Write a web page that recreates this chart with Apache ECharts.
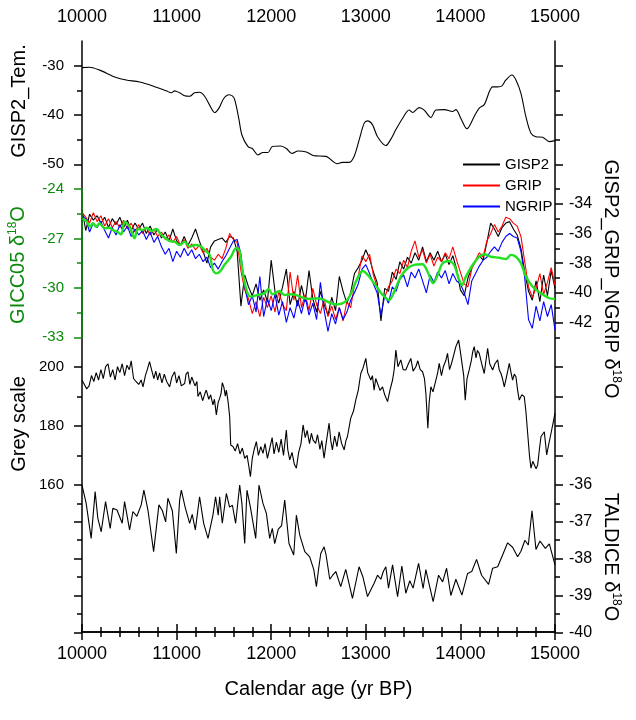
<!DOCTYPE html>
<html lang="en">
<head>
<meta charset="UTF-8">
<title>Ice core records 10000-15000 yr BP</title>
<script src="https://cdn.jsdelivr.net/npm/echarts@6/dist/echarts.min.js"></script>
<style>
html, body { margin: 0; padding: 0; background: #fff; }
#main { width: 636px; height: 720px; }
</style>
</head>
<body>
<div id="main"></div>
<script>
// GISP2 temperature (top panel)
var temYears = [10000,10079,10185,10362,10467,10608,10749,10891,10944,10979,11032,11085,11138,11190,11243,11296,11349,11402,11448,11497,
  11554,11603,11632,11660,11691,11755,11801,11860,11913,11966,12012,12101,12160,12220,12284,12372,12443,12471,12577,12700,
  12753,12824,12876,12929,12982,13018,13071,13124,13212,13265,13317,13388,13458,13494,13564,13617,13688,13741,13829,13917,
  13952,14005,14069,14146,14199,14252,14341,14394,14439,14481,14545,14587,14640,14693,14746,14799,14870,14940,15000];
var temValues = [-30.4,-30.3,-30.9,-32.4,-32.9,-33.3,-34.1,-35.1,-35.5,-35.1,-35.5,-36.1,-36.2,-35.5,-35.4,-36.2,-38.0,-39.5,-38.6,-36.7,
  -35.9,-36.4,-38.3,-41.0,-44.1,-46.4,-46.8,-48.1,-47.6,-47.6,-46.4,-46.3,-46.8,-47.8,-47.3,-47.5,-48.2,-48.3,-48.4,-49.9,
  -49.6,-49.6,-48.4,-45.1,-41.7,-41.2,-42.0,-44.4,-46.2,-44.9,-43.0,-40.7,-39.0,-39.5,-38.5,-39.0,-40.5,-39.0,-38.9,-39.3,
  -38.9,-40.7,-42.8,-40.3,-38.6,-37.9,-34.3,-34.3,-34.1,-32.9,-31.9,-32.9,-35.6,-40.4,-43.7,-44.4,-44.5,-45.4,-45.2];

// GISP2 / GRIP / NGRIP d18O (second panel, right axis)
var iceYears = [10000,10040,10080,10120,10160,10200,10240,10280,10320,10360,
  10400,10440,10480,10520,10560,10600,10640,10680,10720,10760,
  10800,10840,10880,10920,10960,11000,11040,11080,11120,11160,
  11200,11240,11280,11320,11360,11400,11440,11480,11520,11560,
  11600,11640,11680,11720,11760,11800,11840,11880,11920,11960,
  12000,12040,12080,12120,12160,12200,12240,12280,12320,12360,
  12400,12440,12480,12520,12560,12600,12640,12680,12720,12760,
  12800,12840,12880,12920,12960,13000,13040,13080,13120,13160,
  13200,13240,13280,13320,13360,13400,13440,13480,13520,13560,
  13600,13640,13680,13720,13760,13800,13840,13880,13920,13960,
  14000,14040,14080,14120,14160,14200,14240,14280,14320,14360,
  14400,14440,14480,14520,14560,14600,14640,14680,14720,14760,
  14800,14840,14880,14920,14960,15000];
var gisp2 = [-34.4,-35.8,-34.7,-35.1,-34.8,-35.3,-34.9,-35.6,-35.0,-35.4,
  -34.9,-35.6,-35.1,-35.8,-35.3,-35.7,-35.3,-36.0,-35.5,-36.1,
  -35.7,-36.3,-35.9,-36.5,-35.7,-36.5,-36.8,-36.2,-36.8,-36.3,
  -35.7,-36.5,-37.2,-38.0,-36.9,-36.5,-36.4,-36.3,-36.6,-36.2,
  -36.3,-37.2,-40.9,-38.8,-39.6,-40.2,-39.4,-40.5,-39.8,-40.6,
  -37.8,-39.9,-40.7,-39.6,-38.4,-40.8,-39.9,-40.9,-39.5,-40.6,
  -38.5,-40.4,-41.3,-39.9,-40.8,-41.5,-40.3,-41.2,-38.9,-39.9,
  -40.7,-40.0,-38.7,-38.3,-37.8,-37.1,-37.7,-38.6,-39.3,-41.9,
  -39.7,-39.9,-38.6,-39.1,-37.9,-38.4,-37.6,-38.0,-37.3,-37.8,
  -36.9,-37.9,-37.3,-37.8,-37.2,-37.9,-37.4,-38.1,-37.5,-38.4,
  -39.8,-40.2,-39.0,-38.3,-37.9,-37.5,-37.8,-36.6,-35.3,-35.7,
  -36.2,-35.6,-35.3,-35.2,-35.7,-36.1,-37.0,-38.6,-39.9,-40.5,
  -39.2,-40.6,-38.8,-40.2,-38.5,-39.7];
var grip = [-34.6,-34.9,-35.3,-34.6,-35.2,-34.8,-35.5,-35.0,-35.6,-35.2,
  -35.6,-35.1,-35.7,-35.3,-35.9,-35.4,-36.0,-35.6,-36.1,-35.7,
  -36.2,-35.9,-36.4,-36.1,-36.6,-36.2,-36.8,-36.4,-37.0,-36.7,
  -37.1,-36.8,-37.3,-37.0,-37.6,-37.8,-37.4,-37.7,-37.0,-36.0,
  -36.4,-36.6,-38.5,-39.8,-40.4,-41.4,-40.6,-41.6,-40.3,-41.0,
  -40.2,-41.3,-39.9,-40.8,-41.2,-38.6,-40.5,-38.8,-41.0,-40.1,
  -41.2,-39.7,-40.8,-41.4,-40.4,-41.6,-40.9,-41.8,-41.0,-41.9,
  -40.6,-41.0,-39.5,-38.9,-37.5,-37.9,-37.4,-38.8,-39.6,-40.0,
  -40.3,-39.6,-39.2,-38.4,-38.7,-37.8,-38.3,-37.2,-36.5,-37.6,
  -37.1,-38.0,-37.4,-38.2,-37.6,-37.9,-37.3,-37.7,-36.9,-37.8,
  -38.6,-39.4,-39.6,-38.4,-37.8,-37.3,-37.6,-36.5,-36.0,-35.4,
  -35.9,-35.5,-34.9,-35.0,-35.3,-35.5,-36.2,-37.9,-39.6,-40.3,
  -39.7,-38.7,-40.1,-39.3,-38.3,-39.5];
var ngrip = [-34.8,-35.0,-35.9,-35.3,-35.6,-35.2,-35.8,-36.3,-35.6,-36.1,
  -35.4,-35.9,-35.5,-36.2,-35.7,-36.1,-35.8,-36.4,-35.9,-36.6,
  -36.2,-36.9,-37.4,-37.0,-37.9,-37.2,-37.6,-37.0,-37.5,-37.1,
  -37.7,-37.4,-37.9,-37.6,-38.3,-38.0,-38.4,-37.9,-37.5,-37.0,
  -36.5,-36.4,-37.4,-39.6,-40.8,-40.2,-41.3,-38.9,-41.6,-40.4,
  -41.2,-40.1,-41.5,-40.6,-42.0,-41.0,-41.7,-40.5,-41.4,-40.3,
  -41.5,-40.7,-41.8,-39.3,-41.2,-42.6,-41.4,-42.1,-41.0,-41.8,
  -41.3,-40.5,-40.0,-39.4,-38.4,-38.1,-38.7,-39.4,-40.0,-41.5,
  -40.2,-40.7,-39.6,-39.9,-39.1,-38.8,-39.6,-38.6,-39.0,-38.4,
  -39.2,-40.0,-38.8,-39.3,-38.6,-39.0,-38.5,-39.4,-38.7,-39.2,
  -39.4,-40.0,-40.8,-39.2,-38.7,-38.2,-37.8,-37.6,-37.2,-36.9,
  -37.2,-36.6,-36.2,-36.0,-36.2,-36.3,-37.2,-39.0,-41.8,-42.4,
  -40.9,-41.9,-40.6,-41.6,-40.8,-42.5];

// GICC05 d18O (second panel, left axis)
var gicYears = [10000,10044,10087,10115,10150,10185,10238,10291,10326,10368,10415,10450,10503,10556,10590,10643,10686,10732,10785,10838,
  10884,10926,10979,11032,11085,11138,11190,11243,11296,11349,11384,11420,11460,11505,11575,11628,11663,11698,11744,11786,
  11857,11928,11970,12016,12087,12140,12210,12280,12351,12421,12492,12563,12633,12704,12775,12827,12880,12933,12968,13021,
  13074,13127,13177,13247,13300,13370,13441,13511,13600,13653,13712,13759,13812,13881,13934,13981,14016,14058,14129,14199,
  14252,14323,14411,14482,14534,14587,14640,14693,14764,14852,14940,15000];
var gicValues = [-25.78,-25.94,-26.29,-26.08,-26.29,-26.08,-26.38,-26.35,-26.49,-26.59,-26.75,-25.98,-26.29,-26.99,-26.43,-26.49,-26.35,-26.55,-26.43,-26.79,
  -26.99,-27.16,-27.2,-27.4,-27.2,-27.5,-27.4,-27.44,-27.7,-28.0,-28.92,-29.12,-29.0,-28.61,-28.11,-27.6,-27.7,-29.02,-30.23,-30.54,
  -30.43,-30.33,-30.07,-30.39,-30.19,-30.43,-30.39,-30.47,-30.63,-30.67,-30.63,-30.74,-30.94,-31.0,-30.88,-30.54,-29.83,-29.18,-28.98,-29.22,
  -29.62,-30.03,-30.43,-30.74,-30.23,-29.32,-28.81,-28.61,-28.57,-29.02,-29.72,-29.22,-28.51,-28.37,-28.61,-29.42,-29.83,-29.32,-28.61,-28.11,
  -27.96,-28.11,-28.17,-28.25,-28.0,-28.11,-28.51,-29.32,-29.93,-30.33,-30.63,-30.67];

// Grey scale (third panel)
var greyYears = [10000,10025,10050,10075,10100,10125,10150,10175,10200,10225,10250,10275,10300,10325,10350,10375,10400,10425,10450,10475,
  10500,10520,10545,10570,10600,10625,10645,10670,10690,10714,10735,10760,10780,10800,10820,10845,10870,10895,10926,10950,
  10979,11000,11025,11050,11085,11100,11120,11140,11160,11173,11195,11215,11226,11250,11275,11300,11314,11340,11360,11384,
  11400,11420,11440,11455,11470,11483,11500,11515,11526,11545,11561,11572,11596,11620,11645,11670,11695,11720,11745,11765,
  11780,11800,11820,11843,11865,11890,11913,11935,11960,11985,12010,12030,12055,12080,12105,12130,12160,12175,12196,12220,
  12245,12266,12290,12315,12337,12360,12380,12405,12425,12443,12470,12490,12515,12535,12559,12580,12612,12630,12647,12670,
  12695,12718,12745,12771,12790,12806,12841,12870,12894,12920,12947,12970,13000,13020,13053,13070,13088,13105,13124,13150,
  13177,13200,13230,13255,13283,13300,13318,13340,13370,13395,13423,13450,13476,13500,13529,13550,13575,13600,13620,13635,
  13656,13670,13688,13710,13741,13760,13776,13800,13820,13845,13864,13885,13905,13930,13952,13981,14000,14016,14035,14051,
  14070,14093,14115,14130,14146,14165,14180,14199,14225,14252,14270,14288,14310,14341,14365,14394,14410,14429,14445,14464,
  14490,14517,14535,14552,14570,14587,14605,14622,14650,14675,14692,14711,14730,14746,14765,14781,14800,14817,14835,14852,
  14870,14887,14900,14912,14935,14958,14980,15000];
var greyValues = [195.5,194,192.5,193.5,197,195,198,195.5,199,196,200,201,196.5,199,195.5,200,198,201,197,200.5,
  199,202,196,195,194,195.5,193.2,197,199,201.7,199,196,198.5,195.5,197.9,194.5,197.5,195,193.2,196.5,
  198.3,194.5,197,193.5,194.3,197.5,198.3,194,196.5,196.7,193.5,195,189.9,191.5,188.5,191,192.1,189,190.5,187.1,
  189,183.7,188,189.3,191,194.6,193,190,192.1,188,183.1,173.5,173,171.5,174,170.5,172.5,169,170,166,
  162.8,169,172,174.7,170,173,170.7,174,169,172.5,176,170.5,174.5,171,175.5,170,178.6,172,168.5,171,
  167,165.7,171,174,180.3,176,178.5,174,177.5,175.2,174.1,177,172,175,169.1,174,180.9,175,171.9,176.5,
  173,178,174,171.9,175,176.4,182.6,185,188.7,192,197.7,199.5,202.8,198,195.5,197,192.1,196,195.5,192,
  193.2,190.5,188.2,192,195.5,199,205.6,200,202.3,199,198.9,201,202.8,198.5,200,202,199,198.3,196,191,
  179.2,188,193.2,191.5,195.5,198,201.1,197,200,202,204.5,199,201,204,206.8,209,205,204.5,197,188.7,
  196,198.9,202,205,206.8,203,205.5,204.5,201,197.7,202,206.2,201,198.9,201,202.3,199,197.7,196,193.2,
  197,201.1,198,195.5,197.5,196.6,192,188.7,190.5,189.9,185,177.5,170,165.7,168,167.9,165.5,166.8,172,176.4,
  177,178,174,170.2,174,177.5,181,184.3];

// TALDICE d18O (bottom panel)
var talYears = [10000,10044,10097,10139,10167,10203,10249,10298,10326,10370,10425,10450,10503,10538,10580,10626,10654,10697,10757,10778,
  10813,10850,10884,10908,10955,10997,11032,11050,11090,11138,11165,11198,11243,11286,11332,11384,11412,11440,11455,11483,
  11526,11560,11590,11624,11667,11690,11720,11744,11780,11836,11871,11913,11949,11984,12012,12037,12075,12110,12143,12188,
  12238,12266,12302,12355,12407,12450,12478,12500,12524,12559,12580,12619,12650,12683,12735,12788,12859,12929,12970,13018,
  13088,13124,13159,13185,13212,13240,13283,13336,13381,13423,13465,13500,13558,13606,13635,13670,13712,13769,13812,13854,
  13899,13952,14016,14076,14120,14171,14224,14298,14341,14394,14446,14499,14552,14605,14640,14682,14718,14757,14799,14841,
  14898,14940,15000];
var talValues = [-36.0,-36.5,-37.45,-36.18,-36.9,-37.27,-36.45,-37.18,-36.63,-36.68,-37.04,-36.45,-37.22,-36.72,-36.85,-36.54,-36.14,-36.68,-37.81,-37.81,
  -36.54,-36.7,-37.0,-36.36,-36.7,-37.86,-36.41,-36.14,-36.6,-37.04,-36.8,-37.22,-36.32,-37.04,-37.45,-36.82,-36.32,-36.82,-36.32,-37.04,
  -36.23,-36.6,-36.55,-37.04,-36.0,-36.5,-37.59,-36.14,-36.6,-37.45,-36.0,-36.5,-36.77,-37.45,-37.18,-37.59,-37.2,-37.1,-36.41,-37.59,
  -37.9,-36.82,-37.36,-37.81,-37.95,-38.3,-38.76,-38.3,-37.86,-37.68,-37.9,-38.56,-38.45,-38.35,-38.76,-38.29,-39.08,-38.22,-38.5,-39.03,
  -38.67,-38.45,-38.56,-38.35,-38.22,-38.8,-38.17,-39.03,-38.2,-38.94,-38.6,-38.8,-38.13,-38.81,-38.3,-38.7,-39.17,-38.45,-38.63,-38.26,
  -39.0,-38.56,-38.99,-38.4,-38.35,-38.02,-38.45,-38.7,-38.26,-38.22,-37.9,-37.57,-37.69,-37.95,-37.8,-37.5,-37.63,-36.7,-37.75,-37.52,
  -37.72,-37.6,-38.17];

var ageTicks = [10000, 11000, 12000, 13000, 14000, 15000];
var gripMajor = [-34, -36, -38, -40, -42];
var gripMinor = [-33, -35, -37, -39, -41, -43];

function pairs(xs, ys) {
    var out = [];
    for (var i = 0; i < xs.length; i++) out.push([xs[i], ys[i]]);
    return out;
}

var FONT = 'Arial, "Liberation Sans", sans-serif';
var GREEN = '#0a8a0a';
var chart = echarts.init(document.getElementById('main'));

var L = 82, R = 81;
function hiddenX(grid) {
    return { type: 'value', gridIndex: grid, min: ageTicks[0], max: ageTicks[ageTicks.length - 1], show: false };
}
function frameX(pos) {
    return {
        type: 'value', gridIndex: 0, position: pos, min: 10000, max: 15000, interval: 1000,
        axisLine: { show: true, lineStyle: { color: '#000', width: 1.5 } },
        axisTick: { show: true, inside: false, length: 8, lineStyle: { color: '#000', width: 1.5 } },
        minorTick: { show: true, splitNumber: 5, length: 5, lineStyle: { color: '#000', width: 1.5 } },
        splitLine: { show: false },
        axisLabel: { fontSize: 18, fontFamily: FONT, color: '#000', margin: pos === 'top' ? 15 : 13,
                     formatter: function (v) { return String(v); } }
    };
}
function panelY(grid, pos, min, max, interval, opts) {
    opts = opts || {};
    var c = opts.color || '#000';
    return {
        type: 'value', gridIndex: grid, position: pos, min: min, max: max, interval: interval,
        z: opts.z || 2,
        axisLine: { show: !!opts.line, lineStyle: { color: c, width: 1.5 } },
        axisTick: { show: true, inside: false, length: opts.tickLen || 8, lineStyle: { color: c, width: 1.5 }, customValues: opts.tickValues },
        minorTick: { show: !!opts.minor, splitNumber: opts.minor || 2, length: 5, lineStyle: { color: c, width: 1.5 } },
        splitLine: { show: false },
        axisLabel: {
            show: !!opts.labels, fontSize: pos === 'left' ? 15 : 16, fontFamily: FONT, color: c,
            margin: pos === 'left' ? 18 : 14, customValues: opts.labelValues
        }
    };
}

var option = {
    animation: false,
    backgroundColor: '#fff',
    grid: [
        { left: L, right: R, top: 41, bottom: 88 },
        { left: L, right: R, top: 65.7, height: 98.6 },
        { left: L, right: R, top: 189, height: 148.3 },
        { left: L, right: R, top: 366.7, height: 118.3 },
        { left: L, right: R, top: 485, height: 147.3 }
    ],
    xAxis: [
        frameX('top'),
        Object.assign(frameX('bottom'), {
            name: 'Calendar age (yr BP)', nameLocation: 'middle', nameGap: 47,
            nameTextStyle: { fontSize: 20, fontFamily: FONT, color: '#000' }
        }),
        hiddenX(1), hiddenX(2), hiddenX(3), hiddenX(4)
    ],
    yAxis: [
        { type: 'value', gridIndex: 0, position: 'left', min: 0, max: 1, z: 1,
          axisLine: { show: true, lineStyle: { color: '#000', width: 1.5 } },
          axisTick: { show: false }, axisLabel: { show: false }, splitLine: { show: false } },
        { type: 'value', gridIndex: 0, position: 'right', min: 0, max: 1, z: 1,
          axisLine: { show: true, lineStyle: { color: '#000', width: 1.5 } },
          axisTick: { show: false }, axisLabel: { show: false }, splitLine: { show: false } },
        panelY(1, 'left', -50, -30, 10, { labels: true, minor: 2 }),
        panelY(1, 'right', -50, -30, 10, { minor: 2 }),
        panelY(2, 'left', -33, -24, 3, { labels: true, minor: 2, color: GREEN, line: true, z: 5 }),
        panelY(2, 'right', -43, -33, 1, { labels: true, tickValues: gripMajor, labelValues: gripMajor }),
        panelY(2, 'right', -43, -33, 1, { tickLen: 5, tickValues: gripMinor }),
        panelY(3, 'left', 160, 200, 20, { labels: true, minor: 2 }),
        panelY(3, 'right', 160, 200, 10, {}),
        panelY(4, 'left', -40, -36, 1, { minor: 2 }),
        panelY(4, 'right', -40, -36, 1, { labels: true, minor: 2 })
    ],
    legend: {
        orient: 'vertical', left: 462, top: 157, padding: 0, itemWidth: 37, itemHeight: 14, itemGap: 6,
        itemStyle: { opacity: 0 },
        textStyle: { fontSize: 15, fontFamily: FONT, color: '#000' },
        data: ['GISP2', 'GRIP', 'NGRIP']
    },
    series: [
        { name: 'GISP2_Tem', type: 'line', xAxisIndex: 2, yAxisIndex: 2, data: pairs(temYears, temValues),
          symbol: 'none', smooth: 0.3, clip: false, lineStyle: { color: '#000', width: 1.1 } },
        { name: 'GISP2', type: 'line', xAxisIndex: 3, yAxisIndex: 5, data: pairs(iceYears, gisp2),
          symbol: 'none', clip: false, color: '#000', lineStyle: { color: '#000', width: 1.1 } },
        { name: 'GRIP', type: 'line', xAxisIndex: 3, yAxisIndex: 5, data: pairs(iceYears, grip),
          symbol: 'none', clip: false, color: '#ff0000', lineStyle: { color: '#ff0000', width: 1.1 } },
        { name: 'NGRIP', type: 'line', xAxisIndex: 3, yAxisIndex: 5, data: pairs(iceYears, ngrip),
          symbol: 'none', clip: false, color: '#0000ff', lineStyle: { color: '#0000ff', width: 1.1 } },
        { name: 'GICC05', type: 'line', xAxisIndex: 3, yAxisIndex: 4, data: pairs(gicYears, gicValues),
          symbol: 'none', smooth: 0.3, clip: false, z: 4, lineStyle: { color: '#22e022', width: 2.4 } },
        { name: 'Grey scale', type: 'line', xAxisIndex: 4, yAxisIndex: 7, data: pairs(greyYears, greyValues),
          symbol: 'none', clip: false, lineStyle: { color: '#000', width: 1.1 } },
        { name: 'TALDICE', type: 'line', xAxisIndex: 5, yAxisIndex: 10, data: pairs(talYears, talValues),
          symbol: 'none', clip: false, lineStyle: { color: '#000', width: 1.1 } }
    ],
    graphic: [
        { type: 'text', x: 19, y: 101, rotation: Math.PI / 2,
          style: { text: 'GISP2_Tem.', font: '20px ' + FONT, fill: '#000', align: 'center', verticalAlign: 'middle' } },
        { type: 'text', x: 18, y: 265, rotation: Math.PI / 2,
          style: { text: '{a|GICC05 δ}{s|18}{a|O}', fill: GREEN, align: 'center', verticalAlign: 'middle',
                   rich: { a: { fontSize: 20, fontFamily: FONT, color: GREEN, lineHeight: 22 },
                           s: { fontSize: 12, fontFamily: FONT, color: GREEN, lineHeight: 12, verticalAlign: 'top' } } } },
        { type: 'text', x: 19, y: 424, rotation: Math.PI / 2,
          style: { text: 'Grey scale', font: '20px ' + FONT, fill: '#000', align: 'center', verticalAlign: 'middle' } },
        { type: 'text', x: 611, y: 279, rotation: -Math.PI / 2,
          style: { text: '{a|GISP2_GRIP_NGRIP δ}{s|18}{a|O}', fill: '#000', align: 'center', verticalAlign: 'middle',
                   rich: { a: { fontSize: 20, fontFamily: FONT, color: '#000', lineHeight: 22 },
                           s: { fontSize: 12, fontFamily: FONT, color: '#000', lineHeight: 12, verticalAlign: 'top' } } } },
        { type: 'text', x: 611, y: 557, rotation: -Math.PI / 2,
          style: { text: '{a|TALDICE δ}{s|18}{a|O}', fill: '#000', align: 'center', verticalAlign: 'middle',
                   rich: { a: { fontSize: 20, fontFamily: FONT, color: '#000', lineHeight: 22 },
                           s: { fontSize: 12, fontFamily: FONT, color: '#000', lineHeight: 12, verticalAlign: 'top' } } } }
    ]
};
chart.setOption(option);
</script>
</body>
</html>
